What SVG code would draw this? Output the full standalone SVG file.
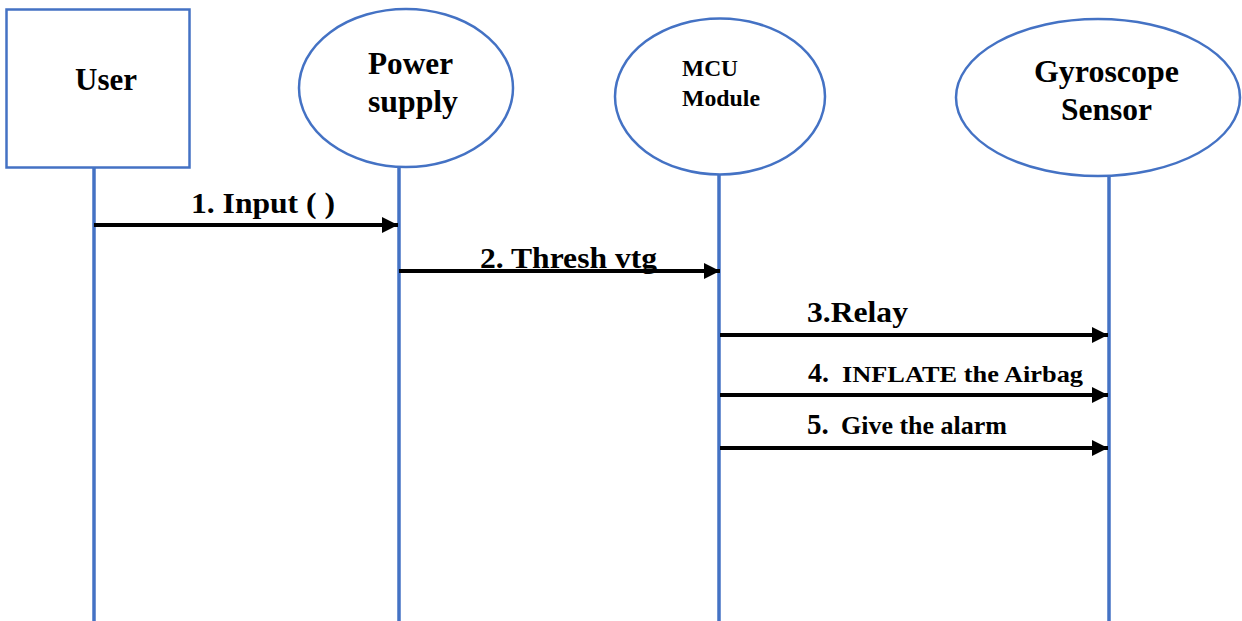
<svg xmlns="http://www.w3.org/2000/svg" width="1242" height="621" viewBox="0 0 1242 621">
<style>
.shape{fill:#fff;stroke:#4472C4;stroke-width:2.5}
.life{stroke:#4472C4;stroke-width:3.5;fill:none}
.msg{stroke:#000;stroke-width:4;fill:none}
text{font-family:"Liberation Serif","Times New Roman",serif;font-weight:bold;fill:#000}
</style>
<defs>
<marker id="ah" markerUnits="userSpaceOnUse" markerWidth="18" markerHeight="18" viewBox="0 0 18 18" refX="16" refY="9" orient="auto">
<path d="M0,1 L16,9 L0,17 Z" fill="#000"/>
</marker>
</defs>
<rect width="1242" height="621" fill="#fff"/>
<g id="user">
<rect class="shape" x="6.5" y="9.5" width="183" height="158"/>
<text x="75" y="90" font-size="32" textLength="62" lengthAdjust="spacingAndGlyphs">User</text>
</g>
<g id="power-supply">
<ellipse class="shape" cx="406" cy="88" rx="107" ry="79"/>
<text x="368" y="74" font-size="31" textLength="85" lengthAdjust="spacingAndGlyphs">Power</text>
<text x="368" y="112" font-size="31" textLength="90" lengthAdjust="spacingAndGlyphs">supply</text>
</g>
<g id="mcu-module">
<ellipse class="shape" cx="720" cy="96.5" rx="105" ry="78"/>
<text x="682" y="76" font-size="23" textLength="56" lengthAdjust="spacingAndGlyphs">MCU</text>
<text x="682" y="106" font-size="23" textLength="78" lengthAdjust="spacingAndGlyphs">Module</text>
</g>
<g id="gyroscope-sensor">
<ellipse class="shape" cx="1098" cy="97.5" rx="142" ry="78.5"/>
<text x="1034" y="82" font-size="31" textLength="145" lengthAdjust="spacingAndGlyphs">Gyroscope</text>
<text x="1061" y="120" font-size="31" textLength="91" lengthAdjust="spacingAndGlyphs">Sensor</text>
</g>
<g id="connectors">
<line class="life" x1="94" y1="168" x2="94" y2="621"/>
<line class="life" x1="399" y1="167.5" x2="399" y2="621"/>
<line class="life" x1="719" y1="175" x2="719" y2="621"/>
<line class="life" x1="1109" y1="176.5" x2="1109" y2="621"/>
<line class="msg" x1="94" y1="225" x2="398" y2="225" marker-end="url(#ah)"/>
<line class="msg" x1="399" y1="271" x2="720" y2="271" marker-end="url(#ah)"/>
<line class="msg" x1="720" y1="335" x2="1108" y2="335" marker-end="url(#ah)"/>
<line class="msg" x1="720" y1="395" x2="1108" y2="395" marker-end="url(#ah)"/>
<line class="msg" x1="720" y1="448" x2="1108" y2="448" marker-end="url(#ah)"/>
<text x="191" y="213" font-size="30" textLength="144" lengthAdjust="spacingAndGlyphs">1. Input ( )</text>
<text x="480" y="268" font-size="30" textLength="177" lengthAdjust="spacingAndGlyphs">2. Thresh vtg</text>
<text x="807" y="322" font-size="30" textLength="101" lengthAdjust="spacingAndGlyphs">3.Relay</text>
<text y="382" font-size="28"><tspan x="808">4.</tspan><tspan x="842" font-size="24" textLength="241" lengthAdjust="spacingAndGlyphs">INFLATE the Airbag</tspan></text>
<text y="434" font-size="29"><tspan x="807">5.</tspan><tspan x="841" font-size="25" textLength="166" lengthAdjust="spacingAndGlyphs">Give the alarm</tspan></text>
</g>
</svg>
